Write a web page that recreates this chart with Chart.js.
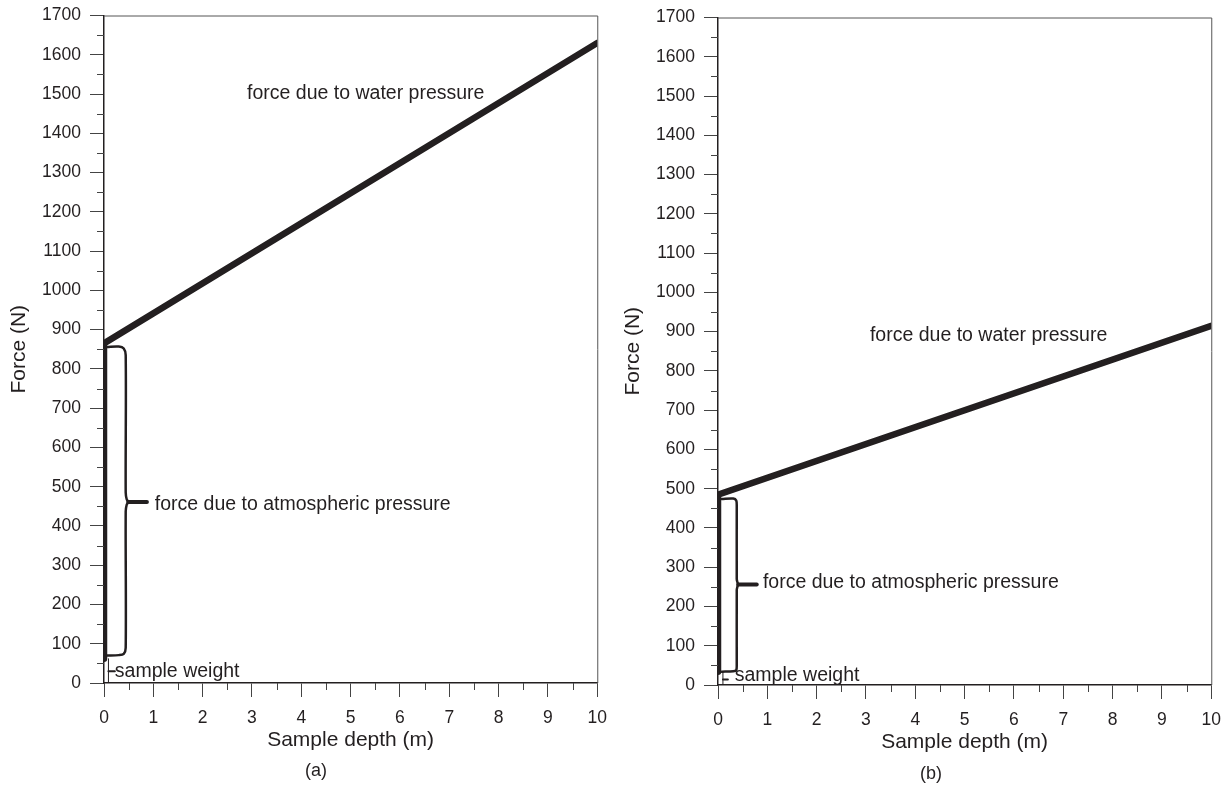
<!DOCTYPE html>
<html><head><meta charset="utf-8">
<script src="https://cdn.jsdelivr.net/npm/chart.js@4"></script>
<style>
body{margin:0;background:#fff;width:1228px;height:792px;overflow:hidden;position:relative;font-family:"Liberation Sans",Arial,sans-serif;}
.box{position:absolute;width:618px;height:796px;}
.cap{position:absolute;font-size:18px;color:#231f20;line-height:20px;}
</style></head><body>
<div class="box" style="left:0;top:-4px"><canvas id="ca" width="618" height="796"></canvas></div>
<div class="box" style="left:614px;top:-2px"><canvas id="cb" width="618" height="796"></canvas></div>
<div class="cap" style="left:305px;top:760px">(a)</div>
<div class="cap" style="left:920px;top:763px">(b)</div>
<script>
// ---- data (a) ----
const forceA_depth = [0, 0, 10];
const forceA_value = [62, 865, 1630];
const braceA_depth = [0.06, 0.3, 0.4, 0.44, 0.44, 0.46, 0.49, 0.46, 0.44, 0.44, 0.4, 0.3, 0.06];
const braceA_value = [856, 857, 852, 835, 485, 468, 461, 454, 437, 90, 74, 71, 70];
const tipA_depth = [0.49, 0.87];
const tipA_value = [461, 461];
const weightA_depth = [0.09, 0.09];
const weightA_value = [0, 62];
const weightTickA_depth = [0.09, 0.22];
const weightTickA_value = [30, 30];
const labelsA_text = ["force due to water pressure", "force due to atmospheric pressure", "sample weight"];
const labelsA_depth = [2.9, 1.03, 0.22];
const labelsA_value = [1501, 455, 28];

// ---- data (b) ----
const forceB_depth = [0, 0, 10];
const forceB_value = [34, 485, 915];
const braceB_depth = [0.075, 0.31, 0.37, 0.38, 0.38, 0.395, 0.41, 0.395, 0.38, 0.38, 0.37, 0.31, 0.075];
const braceB_value = [474, 475, 470, 456, 270, 261, 256, 251, 242, 50, 38, 35, 34];
const tipB_depth = [0.41, 0.785];
const tipB_value = [256, 256];
const weightB_depth = [0.1, 0.1];
const weightB_value = [0, 34];
const weightTickB_depth = [0.1, 0.2];
const weightTickB_value = [14, 14];
const labelsB_text = ["force due to water pressure", "force due to atmospheric pressure", "sample weight"];
const labelsB_depth = [3.08, 0.91, 0.34];
const labelsB_value = [891, 261, 23];

// ---- axes ----
const depthMin = 0, depthMax = 10, depthStep = 1, depthMinorStep = 0.5;
const forceMin = 0, forceMax = 1700, forceStep = 100, forceMinorStep = 50;

const INK = '#231f20';
const FONT = '"Liberation Sans", Arial, sans-serif';

function pts(xs, ys){ return xs.map((x,i)=>({x:x, y:ys[i]})); }
function ds(xs, ys, w, t){
  return {data: pts(xs, ys), showLine:true, borderColor:INK, borderWidth:w, pointRadius:0,
          fill:false, tension:t||0, borderJoinStyle:'round', borderCapStyle:'round'};
}

const decor = {
  id:'decor',
  afterDraw(chart, args, opts){
    const ctx = chart.ctx, ca = chart.chartArea;
    const xs = chart.scales.x, ys = chart.scales.y;
    ctx.save();
    ctx.strokeStyle = '#555'; ctx.lineWidth = 1;
    ctx.beginPath();
    ctx.moveTo(ca.left, ca.top+0.5); ctx.lineTo(ca.right+0.5, ca.top+0.5); ctx.lineTo(ca.right+0.5, ca.bottom);
    ctx.stroke();
    ctx.strokeStyle = '#444'; ctx.lineWidth = 1;
    ctx.beginPath();
    for (let v = forceMin + forceMinorStep; v < forceMax; v += forceStep){
      const y = Math.round(ys.getPixelForValue(v)) + 0.5;
      ctx.moveTo(ca.left - 7, y); ctx.lineTo(ca.left, y);
    }
    for (let v = depthMin + depthMinorStep; v < depthMax; v += depthStep){
      const x = Math.round(xs.getPixelForValue(v)) + 0.5;
      ctx.moveTo(x, ca.bottom); ctx.lineTo(x, ca.bottom + 7);
    }
    ctx.stroke();
    ctx.fillStyle = INK;
    ctx.font = '19.5px ' + FONT;
    ctx.textBaseline = 'middle'; ctx.textAlign = 'left';
    opts.text.forEach((t,i)=>{
      ctx.fillText(t, xs.getPixelForValue(opts.xv[i]), ys.getPixelForValue(opts.yv[i]));
    });
    ctx.restore();
  }
};

function makeChart(id, d){
  return new Chart(document.getElementById(id), {
    type:'scatter',
    data:{datasets:[
      ds(d.wx, d.wy, 1),
      ds(d.wtx, d.wty, 2),
      ds(d.bx, d.by, 2.5, 0.3),
      ds(d.tx, d.ty, 4),
      Object.assign(ds(d.fx, d.fy, 6.5), {borderJoinStyle:'miter', borderCapStyle:'round'})
    ]},
    options:{
      responsive:false, animation:false, events:[],
      layout:{padding:{top:11, right:0, bottom:32, left:0}},
      plugins:{legend:{display:false}, tooltip:{enabled:false},
        decor:{text:d.lt, xv:d.lx, yv:d.ly}},
      scales:{
        x:{type:'linear', min:depthMin, max:depthMax,
          ticks:{stepSize:depthStep, color:INK, font:{family:FONT, size:17.5}, padding:11, maxRotation:0,
                 callback:v=>String(v)},
          grid:{drawOnChartArea:false, drawTicks:true, tickLength:14, tickColor:'#444', tickWidth:1},
          border:{display:true, color:INK, width:1.5},
          title:{display:true, text:'Sample depth (m)', color:INK, font:{family:FONT, size:21}, padding:{top:4, bottom:7}},
          afterFit(s){ s.height = 77; }
        },
        y:{type:'linear', min:forceMin, max:forceMax,
          ticks:{stepSize:forceStep, color:INK, font:{family:FONT, size:17.5}, padding:9,
                 callback:v=>String(v)},
          grid:{drawOnChartArea:false, drawTicks:true, tickLength:14, tickColor:'#444', tickWidth:1},
          border:{display:true, color:INK, width:1.5},
          title:{display:true, text:'Force (N)', color:INK, font:{family:FONT, size:21}, padding:{top:7, bottom:4}},
          afterFit(s){ s.width = 104; }
        }
      }
    },
    plugins:[decor]
  });
}

makeChart('ca', {fx:forceA_depth, fy:forceA_value, bx:braceA_depth, by:braceA_value,
  tx:tipA_depth, ty:tipA_value, wx:weightA_depth, wy:weightA_value,
  wtx:weightTickA_depth, wty:weightTickA_value, lt:labelsA_text, lx:labelsA_depth, ly:labelsA_value});
makeChart('cb', {fx:forceB_depth, fy:forceB_value, bx:braceB_depth, by:braceB_value,
  tx:tipB_depth, ty:tipB_value, wx:weightB_depth, wy:weightB_value,
  wtx:weightTickB_depth, wty:weightTickB_value, lt:labelsB_text, lx:labelsB_depth, ly:labelsB_value});
</script>
</body></html>
